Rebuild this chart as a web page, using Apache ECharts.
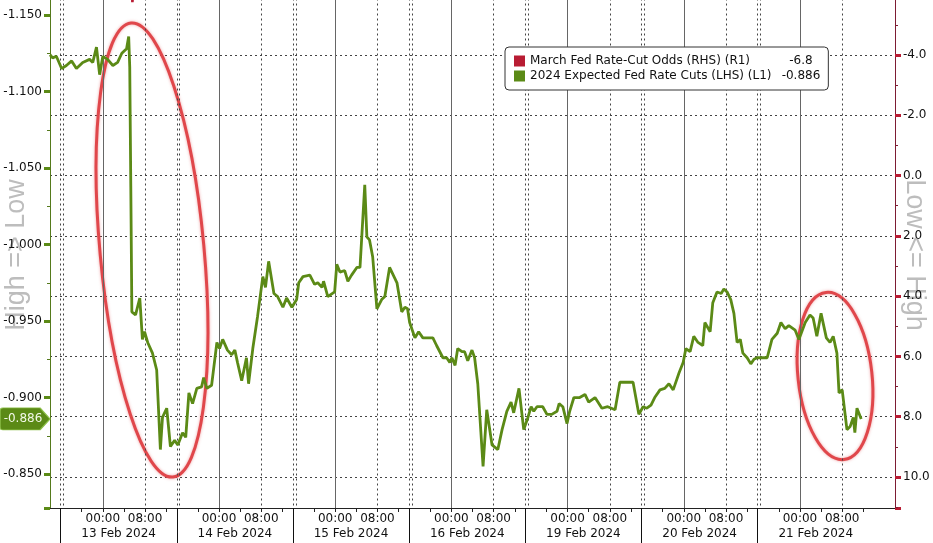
<!DOCTYPE html>
<html><head><meta charset="utf-8">
<script src="https://cdn.jsdelivr.net/npm/echarts@6/dist/echarts.min.js"></script>
<style>html,body{margin:0;padding:0;background:#fff}#c{width:933px;height:543px}</style>
</head><body><div id="c"></div>
<script>
// ---- data ----
const dayLabels = ['13 Feb 2024','14 Feb 2024','15 Feb 2024','16 Feb 2024','19 Feb 2024','20 Feb 2024','21 Feb 2024'];
const timeLabels = ['00:00','08:00'];
const seriesNames = ['March Fed Rate-Cut Odds (RHS) (R1)','2024 Expected Fed Rate Cuts (LHS) (L1)'];
// time: trading hours since the start of the 13 Feb session (each session = 22 h, 00:00 at +8h)
const cutsTime = [-2.0,-1.5,-0.8,0.2,1.1,2.1,3.0,4.2,5.5,6.1,6.8,7.4,8.0,8.9,9.9,10.8,11.6,12.5,12.9,13.1,13.3,13.5,14.2,15.0,15.5,15.9,16.5,17.4,18.2,18.9,19.3,20.1,20.8,21.6,22.2,23.1,23.7,24.3,25.0,25.8,26.7,27.1,27.7,28.6,29.6,30.1,30.7,31.6,32.4,33.0,33.5,34.3,35.2,35.6,36.4,37.3,38.3,38.8,39.4,40.4,41.1,42.1,42.8,43.8,44.7,45.1,45.9,47.2,48.1,48.7,49.5,49.8,50.6,51.9,52.3,52.9,53.8,54.4,55.1,56.1,56.7,57.6,58.0,58.5,59.1,59.9,60.8,61.4,62.3,63.7,64.6,65.2,65.7,66.1,67.1,67.8,68.6,70.5,71.2,72.4,73.1,73.7,74.1,74.7,75.2,76.0,76.5,77.1,77.9,78.4,79.0,80.0,80.7,81.7,82.8,83.6,84.5,85.3,85.8,86.8,87.7,88.5,89.1,89.6,90.2,91.3,92.1,93.0,94.0,94.4,95.1,95.9,96.4,97.2,98.3,99.3,100.0,101.2,102.5,103.6,105.0,105.9,108.4,109.5,110.3,111.0,111.8,112.5,113.5,114.4,115.2,116.0,117.1,117.9,118.4,119.2,119.9,120.7,121.6,122.0,123.0,123.5,124.3,125.1,125.6,126.2,126.9,127.5,128.1,128.7,129.2,130.0,130.7,131.3,131.9,133.8,134.7,135.7,136.4,137.2,137.9,139.1,139.8,141.0,141.9,142.5,143.2,144.0,145.0,145.7,146.3,147.0,147.4,148.0,148.9,149.5,150.1,150.4,150.8,151.6];
const cutsValue = [-1.124,-1.122,-1.123,-1.115,-1.117,-1.120,-1.115,-1.119,-1.121,-1.119,-1.129,-1.111,-1.123,-1.121,-1.117,-1.119,-1.125,-1.128,-1.136,-1.116,-1.038,-0.956,-0.954,-0.965,-0.938,-0.943,-0.936,-0.929,-0.918,-0.866,-0.887,-0.893,-0.868,-0.872,-0.869,-0.877,-0.874,-0.903,-0.896,-0.906,-0.907,-0.913,-0.906,-0.908,-0.936,-0.932,-0.938,-0.931,-0.928,-0.931,-0.923,-0.911,-0.926,-0.909,-0.932,-0.953,-0.979,-0.972,-0.989,-0.968,-0.966,-0.959,-0.965,-0.959,-0.964,-0.975,-0.979,-0.980,-0.974,-0.975,-0.972,-0.976,-0.966,-0.969,-0.987,-0.982,-0.983,-0.976,-0.980,-0.985,-0.985,-1.039,-1.005,-1.003,-0.992,-0.958,-0.964,-0.966,-0.985,-0.975,-0.956,-0.959,-0.958,-0.949,-0.939,-0.943,-0.939,-0.939,-0.934,-0.926,-0.926,-0.923,-0.926,-0.921,-0.932,-0.930,-0.930,-0.924,-0.931,-0.926,-0.909,-0.855,-0.892,-0.869,-0.866,-0.879,-0.891,-0.897,-0.890,-0.906,-0.879,-0.887,-0.894,-0.891,-0.894,-0.894,-0.889,-0.889,-0.891,-0.896,-0.894,-0.883,-0.891,-0.900,-0.900,-0.902,-0.897,-0.900,-0.893,-0.894,-0.892,-0.910,-0.910,-0.889,-0.894,-0.893,-0.895,-0.900,-0.905,-0.906,-0.909,-0.905,-0.916,-0.923,-0.932,-0.930,-0.940,-0.936,-0.934,-0.949,-0.943,-0.962,-0.969,-0.968,-0.971,-0.969,-0.964,-0.955,-0.936,-0.938,-0.929,-0.926,-0.922,-0.925,-0.926,-0.926,-0.938,-0.942,-0.949,-0.945,-0.947,-0.944,-0.938,-0.949,-0.954,-0.952,-0.940,-0.955,-0.939,-0.936,-0.940,-0.929,-0.903,-0.905,-0.879,-0.881,-0.887,-0.877,-0.893,-0.886];
const oddsTime = [-2.0,12.9,13.6,14.4,40.0,80.0,120.0,151.6];
const oddsValue = [-10.5,-10.8,-5.75,-7.6,-7.3,-7.0,-6.9,-6.8];

// ---- chart ----
const H = 22;               // axis hours per session
const FONT = 'DejaVu Sans';
const GREEN = '#5b8a16', RED = '#b81c33';

const cutsData = cutsTime.map((t, i) => [t, cutsValue[i]]);
const oddsData = oddsTime.map((t, i) => [t, oddsValue[i]]);
const lastCuts = cutsValue[cutsValue.length - 1];
const lastOdds = oddsValue[oddsValue.length - 1];

const dayStarts = dayLabels.map((_, d) => d * H);
const tickVals = [], timeVals = [];
dayStarts.forEach(s => { [0,4,8,12,16,20].forEach(h => tickVals.push(s + h)); timeVals.push(s + 8, s + 16); });
const midVals = dayStarts.map(s => s + H / 2);

const dotted = { type: [2, 3], color: '#444', width: 1 };
const vLines = [];
dayStarts.forEach(s => {
  vLines.push({ xAxis: s, lineStyle: dotted });
  vLines.push({ xAxis: s + 0.55, lineStyle: dotted });
  vLines.push({ xAxis: s + 8, lineStyle: { type: 'solid', color: '#666', width: 1 } });
  vLines.push({ xAxis: s + 16, lineStyle: dotted });
});

const chart = echarts.init(document.getElementById('c'), null, { renderer: 'canvas' });
chart.setOption({
  animation: false,
  backgroundColor: '#fff',
  grid: [
    { left: 50, right: 38, top: -61.5, bottom: 35, outerBoundsMode: 'none' },
    { left: 50, right: 38, top: -5.28, bottom: 35, outerBoundsMode: 'none' }
  ],
  xAxis: [
    { gridIndex: 0, type: 'value', min: -2, max: 158, position: 'bottom',
      axisLine: { show: true, onZero: false, lineStyle: { color: '#222', width: 1 } },
      axisTick: { show: true, customValues: tickVals, length: 4, lineStyle: { color: '#222' } },
      axisLabel: { customValues: timeVals, formatter: v => timeLabels[(Math.round(v) % H) === 8 ? 0 : 1],
        margin: 5, fontFamily: FONT, fontSize: 12, color: '#111' },
      splitLine: { show: false } },
    { gridIndex: 0, type: 'value', min: -2, max: 158, position: 'bottom',
      axisLine: { show: false, onZero: false },
      axisTick: { show: true, customValues: dayStarts, length: 36, lineStyle: { color: '#111' } },
      axisLabel: { customValues: midVals, formatter: v => dayLabels[Math.round((v - H / 2) / H)],
        margin: 20, fontFamily: FONT, fontSize: 12, color: '#111' },
      splitLine: { show: false } },
    { gridIndex: 1, type: 'value', min: -2, max: 158, show: false, axisLine: { onZero: false } }
  ],
  yAxis: [
    { gridIndex: 0, type: 'value', inverse: true, min: -1.2, max: -0.8278, interval: 0.05, position: 'left',
      axisLine: { show: true, onZero: false, lineStyle: { color: '#557a1c', width: 1 } },
      axisTick: { show: true, length: 6, lineStyle: { color: GREEN, width: 3 } },
      minorTick: { show: true, splitNumber: 2, length: 3, lineStyle: { color: '#557a1c' } },
      axisLabel: { formatter: v => v.toFixed(3), margin: 8, showMaxLabel: false,
        fontFamily: FONT, fontSize: 12, color: '#111' },
      splitLine: { show: false } },
    { gridIndex: 1, type: 'value', inverse: true, min: -6, max: 11.028, interval: 2, position: 'right',
      axisLine: { show: true, onZero: false, lineStyle: { color: '#7d1c33', width: 1 } },
      axisTick: { show: true, length: 6, lineStyle: { color: RED, width: 3 } },
      minorTick: { show: true, splitNumber: 2, length: 3, lineStyle: { color: '#7d1c33' } },
      axisLabel: { formatter: v => v.toFixed(1), margin: 8, showMaxLabel: false,
        fontFamily: FONT, fontSize: 12, color: '#111' },
      splitLine: { show: true, lineStyle: dotted } }
  ],
  legend: {
    orient: 'vertical', left: 505, top: 47, padding: [8, 8, 8, 9], itemGap: 3,
    itemWidth: 11, itemHeight: 11, icon: 'rect',
    backgroundColor: '#fff', borderColor: '#333', borderWidth: 1, borderRadius: 4,
    data: seriesNames,
    formatter: name => name === seriesNames[0]
      ? `{n|${name}}{v|${lastOdds.toFixed(1)}}`
      : `{n|${name}}{v|${lastCuts.toFixed(3)}}`,
    textStyle: { fontFamily: FONT, fontSize: 12, color: '#111',
      rich: { n: { width: 247, fontFamily: FONT, fontSize: 12, color: '#111' },
              v: { width: 48, align: 'center', fontFamily: FONT, fontSize: 12, color: '#111' } } }
  },
  series: [
    { type: 'line', name: seriesNames[1], xAxisIndex: 0, yAxisIndex: 0, data: cutsData,
      showSymbol: false, symbol: 'none', z: 5,
      lineStyle: { color: GREEN, width: 2.8 }, itemStyle: { color: GREEN },
      markLine: { silent: true, symbol: ['none', 'none'], label: { show: false }, z: 1, data: vLines },
      markPoint: { silent: true,
        data: [{ coord: [-2, lastCuts], value: lastCuts }],
        symbol: 'path://M3,0 L40,0 L50,11 L40,22 L3,22 Q0,22 0,19 L0,3 Q0,0 3,0 Z',
        symbolSize: [50, 22], symbolOffset: [-25, 0],
        itemStyle: { color: '#5b8a16', borderColor: '#8cbf48', borderWidth: 1 },
        label: { show: true, position: 'inside', formatter: p => p.value.toFixed(3), offset: [-2, 0],
          color: '#f2f8e8', fontFamily: FONT, fontSize: 12 } } },
    { type: 'line', name: seriesNames[0], xAxisIndex: 2, yAxisIndex: 1, data: oddsData,
      showSymbol: false, symbol: 'none', z: 4,
      lineStyle: { color: RED, width: 2.6 }, itemStyle: { color: RED } }
  ],
  graphic: [
    { type: 'text', x: 17, y: 255, rotation: Math.PI / 2, z: -1, silent: true,
      style: { text: 'High => Low', font: '27px "Liberation Sans"', fill: '#bdbdbd', align: 'center', verticalAlign: 'middle' } },
    { type: 'text', x: 914, y: 255, rotation: -Math.PI / 2, z: -1, silent: true,
      style: { text: 'Low <= High', font: '27px "Liberation Sans"', fill: '#bdbdbd', align: 'center', verticalAlign: 'middle' } },
    { type: 'ellipse', x: 152, y: 250, rotation: 0.092, z: 1, silent: true,
      shape: { cx: 0, cy: 0, rx: 52, ry: 228 },
      style: { fill: 'none', stroke: '#e0474b', lineWidth: 3, shadowBlur: 3, shadowColor: 'rgba(224,71,75,0.5)' } },
    { type: 'ellipse', x: 835, y: 376, rotation: 0.107, z: 1, silent: true,
      shape: { cx: 0, cy: 0, rx: 37, ry: 84 },
      style: { fill: 'none', stroke: '#e0474b', lineWidth: 3, shadowBlur: 3, shadowColor: 'rgba(224,71,75,0.5)' } }
  ]
});
</script></body></html>
